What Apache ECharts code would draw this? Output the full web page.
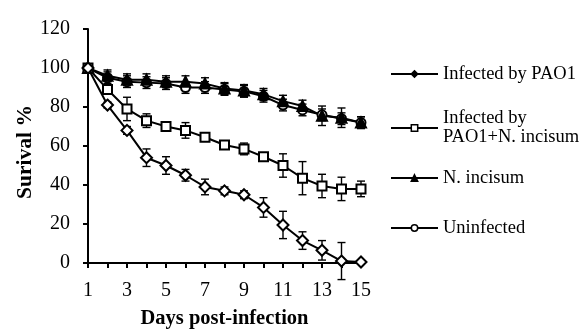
<!DOCTYPE html>
<html><head><meta charset="utf-8">
<script src="https://cdn.jsdelivr.net/npm/echarts@6/dist/echarts.min.js"></script>
<style>html,body{margin:0;padding:0;background:#fff}#c{width:581px;height:334px}</style>
</head><body><div id="c"></div>
<script>
var days = [1,2,3,4,5,6,7,8,9,10,11,12,13,14,15];
var seriesNames = ['Infected by PAO1', 'Infected by PAO1+N. incisum', 'N. incisum', 'Uninfected'];
var pao1 = [100, 81, 68, 54, 50, 45, 39, 37, 35, 28.5, 19.5, 11.5, 6.5, 1, 0.5];
var pao1Err = [0, 1.5, 2, 4.5, 4.5, 3, 4, 2, 2, 5, 7, 4.5, 5, 9.5, 1];
var pao1Ni = [100, 89, 79, 73, 70, 68, 64.5, 60.5, 58.5, 54.5, 50, 43.5, 39.5, 38, 38];
var pao1NiErr = [0, 2, 6, 3.5, 2, 4, 2, 2, 3, 2, 6, 8.5, 6, 6, 4];
var niOnly = [100, 96, 94, 94, 93, 93, 92, 89.5, 88.5, 86.5, 83, 80.5, 75.5, 74.5, 72];
var niOnlyErr = [0, 3, 3, 3, 3, 3, 3, 3, 3, 3, 3, 3, 5, 5, 3];
var uninf = [100, 95, 93, 92.5, 92, 90, 90, 89, 88, 85.5, 81, 78.5, 76, 74, 72];
var uninfErr = [0, 3, 3, 3, 3, 3, 3, 3, 3, 3, 3, 3, 3, 3, 3];
var yTicks = [0, 20, 40, 60, 80, 100, 120];
var xLabelDays = [1, 3, 5, 7, 9, 11, 13, 15];

var FONT = '"Liberation Serif", "DejaVu Serif", serif';

function pts(vals){ return days.map(function(d,i){ return [d, vals[i]]; }); }
function errData(vals, errs){ return days.map(function(d,i){ return [d, vals[i], errs[i]]; }); }

function errSeries(vals, errs){
  return {
    type: 'custom', silent: true, z: 1,
    data: errData(vals, errs),
    renderItem: function(params, api){
      var x = api.value(0), y = api.value(1), e = api.value(2);
      if (!e) return null;
      var top = api.coord([x, y + e]);
      var bot = api.coord([x, y - e]);
      var cw = 4;
      var st = {stroke: '#000', lineWidth: 1.4};
      return {type: 'group', children: [
        {type: 'line', shape: {x1: top[0], y1: top[1], x2: bot[0], y2: bot[1]}, style: st},
        {type: 'line', shape: {x1: top[0]-cw, y1: top[1], x2: top[0]+cw, y2: top[1]}, style: st},
        {type: 'line', shape: {x1: bot[0]-cw, y1: bot[1], x2: bot[0]+cw, y2: bot[1]}, style: st}
      ]};
    }
  };
}

function lineSeries(name, vals, symbol, fill, size){
  return {
    name: name, type: 'line', data: pts(vals), z: 3,
    symbol: symbol, symbolSize: size, showSymbol: true,
    lineStyle: {color: '#000', width: 2},
    itemStyle: {color: fill, borderColor: '#000', borderWidth: 2},
    emphasis: {disabled: true}, animation: false
  };
}

function legendAt(name, top, fill, fmt){
  var lg = {
    data: [name], orient: 'vertical', left: 390, top: top, padding: 0,
    itemWidth: 47, itemHeight: 8, itemGap: 0,
    selectedMode: false,
    textStyle: {fontFamily: FONT, fontSize: 18.5, color: '#000', lineHeight: 19},
    itemStyle: {color: fill, borderColor: '#000', borderWidth: 1.5},
    lineStyle: {color: '#000', width: 2}
  };
  if (fmt) {
    lg.formatter = fmt;
    lg.textStyle.padding = [19, 0, 0, 0];
  }
  return lg;
}

var chart = echarts.init(document.getElementById('c'), null, {renderer: 'canvas'});
chart.setOption({
  animation: false,
  backgroundColor: '#fff',
  grid: {left: 88, right: 220, top: 29, bottom: 64, containLabel: false},
  xAxis: {
    type: 'value', min: 1, max: 15, interval: 1,
    name: 'Days post-infection', nameLocation: 'middle', nameGap: 45,
    nameTextStyle: {fontFamily: FONT, fontSize: 20.5, fontWeight: 'bold', color: '#000'},
    axisLine: {lineStyle: {color: '#000', width: 2}},
    axisTick: {show: true, length: 5, lineStyle: {color: '#000', width: 2}},
    splitLine: {show: false},
    axisLabel: {
      fontFamily: FONT, fontSize: 20, color: '#000', margin: 18,
      formatter: function(v){ return xLabelDays.indexOf(v) >= 0 ? String(v) : ''; }
    }
  },
  yAxis: {
    type: 'value', min: 0, max: 120, interval: 20,
    name: 'Surival %', nameLocation: 'middle', nameGap: 51,
    nameTextStyle: {fontFamily: FONT, fontSize: 21.5, fontWeight: 'bold', color: '#000', padding: [0, 12, 0, 0]},
    axisLine: {show: true, lineStyle: {color: '#000', width: 2}},
    axisTick: {show: true, length: 5, lineStyle: {color: '#000', width: 2}},
    splitLine: {show: false},
    axisLabel: {
      fontFamily: FONT, fontSize: 20, color: '#000', margin: 18,
      formatter: function(v){ return yTicks.indexOf(v) >= 0 ? String(v) : ''; }
    }
  },
  legend: [
    legendAt(seriesNames[0], 64.5, '#000'),
    legendAt(seriesNames[1], 99.5, '#fff', function(){ return 'Infected by\nPAO1+N. incisum'; }),
    legendAt(seriesNames[2], 168.5, '#000'),
    legendAt(seriesNames[3], 218.5, '#fff')
  ],
  series: [
    errSeries(pao1, pao1Err),
    errSeries(pao1Ni, pao1NiErr),
    errSeries(niOnly, niOnlyErr),
    errSeries(uninf, uninfErr),
    lineSeries(seriesNames[3], uninf, 'circle', '#fff', 9),
    lineSeries(seriesNames[2], niOnly, 'triangle', '#000', 10),
    lineSeries(seriesNames[1], pao1Ni, 'rect', '#fff', 9),
    lineSeries(seriesNames[0], pao1, 'diamond', '#fff', 11)
  ]
});
</script></body></html>
